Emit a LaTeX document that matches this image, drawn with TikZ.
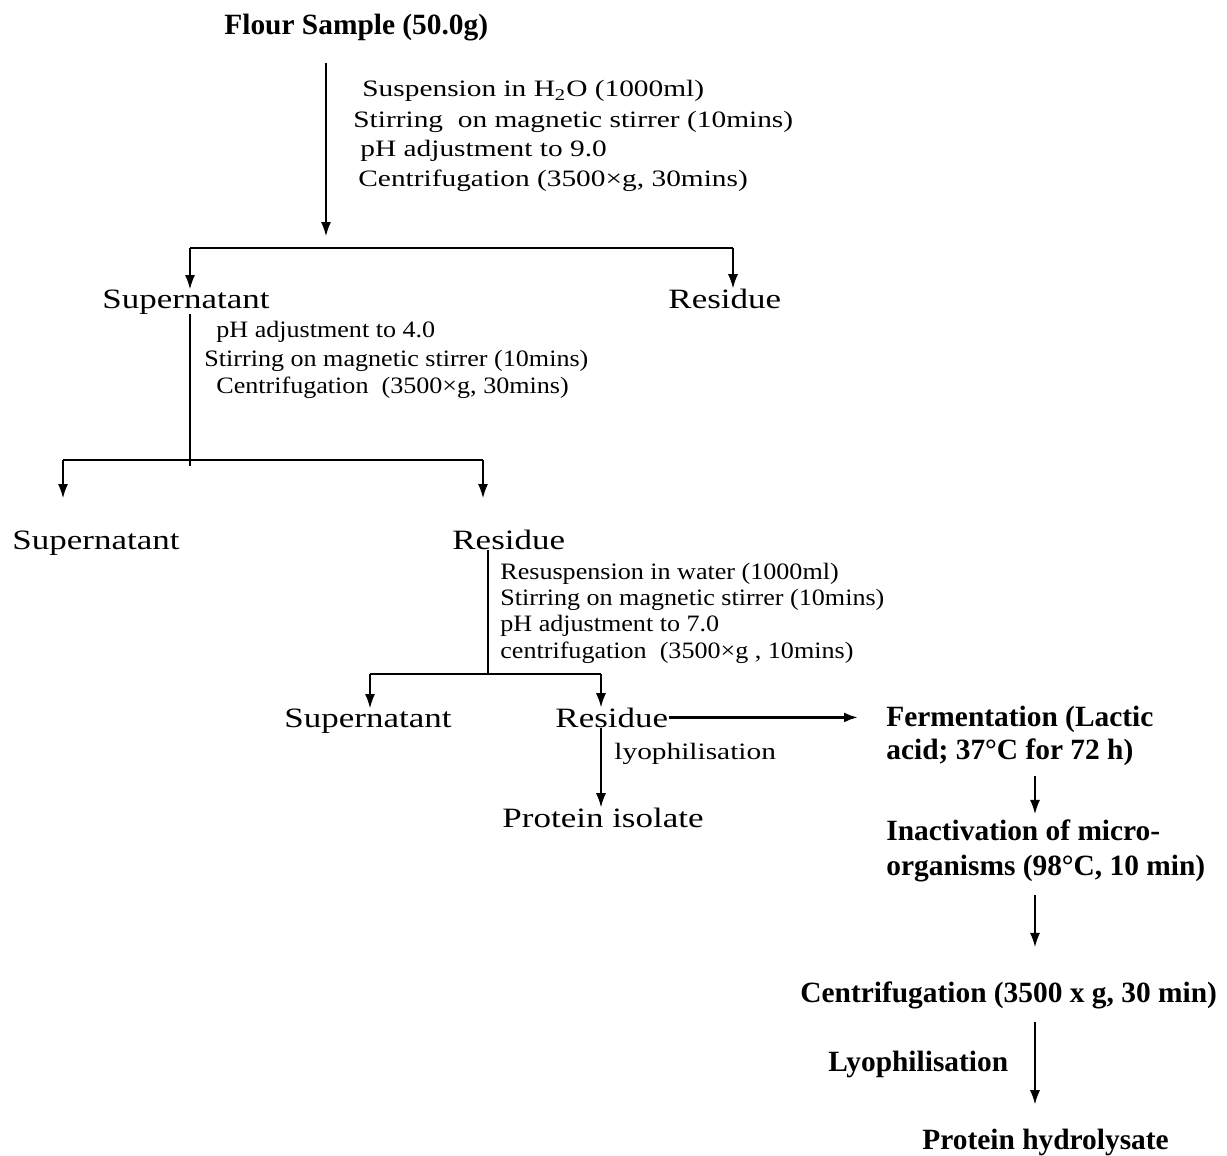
\documentclass[tikz,border=0pt]{standalone}
\usepackage{fontspec}
\setmainfont{Liberation Serif}
\newfontfamily\widefont[FakeStretch=1.25]{Liberation Serif}
\newfontfamily\midfont[FakeStretch=1.11]{Liberation Serif}
\usetikzlibrary{calc}
\usetikzlibrary{arrows.meta}
\tikzset{
 boldlbl/.style={anchor=base west, inner sep=0pt, font=\fontsize{14.7}{17}\selectfont\bfseries},
 phase/.style={anchor=base west, inner sep=0pt, font=\widefont\fontsize{14}{16}\selectfont},
 steptxt/.style={anchor=base west, inner sep=0pt, font=\widefont\fontsize{11.75}{14}\selectfont},
 steptxtb/.style={anchor=base west, inner sep=0pt, font=\midfont\fontsize{11.75}{14}\selectfont},
 flow/.style={-{Latex[length=7pt,width=5pt]}, line width=0.6pt},
 bar/.style={line width=0.6pt}
}
\begin{document}
\begin{tikzpicture}[x=0.5pt, y=-0.5pt]
\useasboundingbox (0,0) rectangle (1227,1156);
\node[boldlbl] (flour) at (224,35) {Flour Sample (50.0g)};
\foreach \x/\y/\t [count=\i] in {362/97/{Suspension in H\textsubscript{2}O (1000ml)}, 353/127/{Stirring~ on magnetic stirrer (10mins)}, 360/156/{pH adjustment to 9.0}, 358/186/{Centrifugation (3500×g, 30mins)}}
 \node[steptxt] (stepa\i) at (\x,\y) {\t};
\node[phase] (sup1) at (102,308) {Supernatant};
\node[phase] (res1) at (668,308) {Residue};
\foreach \x/\y/\t [count=\i] in {216/337/{pH adjustment to 4.0}, 204/366/{Stirring on magnetic stirrer (10mins)}, 216/393/{Centrifugation~ (3500×g, 30mins)}}
 \node[steptxtb] (stepb\i) at (\x,\y) {\t};
\node[phase] (sup2) at (12,549) {Supernatant};
\node[phase] (res2) at (452,549) {Residue};
\foreach \x/\y/\t [count=\i] in {500/579/{Resuspension in water (1000ml)}, 500/605/{Stirring on magnetic stirrer (10mins)}, 500/631/{pH adjustment to 7.0}, 500/658/{centrifugation~ (3500×g , 10mins)}}
 \node[steptxtb] (stepc\i) at (\x,\y) {\t};
\node[phase] (sup3) at (284,727) {Supernatant};
\node[phase] (res3) at (555,727) {Residue};
\node[steptxt] (lyo1) at (614,759) {lyophilisation};
\node[phase] (prot) at (502,827) {Protein isolate};
\node[boldlbl] (ferm1) at (886,726) {Fermentation (Lactic};
\node[boldlbl] (ferm2) at (886,759) {acid; 37°C for 72 h)};
\node[boldlbl] (inact1) at (886,840) {Inactivation of micro-};
\node[boldlbl] (inact2) at (886,875) {organisms (98°C, 10 min)};
\node[boldlbl] (centrif) at (800,1002) {Centrifugation (3500 x g, 30 min)};
\node[boldlbl] (lyo2) at (828,1071) {Lyophilisation};
\node[boldlbl] (hydro) at (922,1149) {Protein hydrolysate};

\coordinate (a1tip) at (326,236);
\coordinate (b1L) at (190,248);
\coordinate (b1R) at (733,248);
\coordinate (b2stem) at (190,466);
\coordinate (b2L) at (63,460);
\coordinate (b2R) at (483,460);
\coordinate (b2Ltip) at (63,498);
\coordinate (b2Rtip) at (483,498);
\coordinate (b3stem) at (488,674);
\coordinate (b3L) at (370,674);
\coordinate (b3R) at (601,674);
\coordinate (rcol) at (1035,0);

\draw[flow, shorten <=10.5pt] (flour.south -| a1tip) -- (a1tip);
\draw[bar] (b1L) -- (b1R);
\draw[flow] (b1L) -- (b1L |- sup1.north);
\draw[flow] (b1R) -- (b1R |- res1.north);
\draw[bar] (sup1.south -| b2stem) -- (b2stem);
\draw[bar] (b2L) -- (b2R);
\draw[flow] (b2L) -- (b2Ltip);
\draw[flow] (b2R) -- (b2Rtip);
\draw[bar] (res2.south -| b3stem) -- (b3stem);
\draw[bar] (b3L) -- (b3R);
\draw[flow] (b3L) -- (b3L |- sup3.north);
\draw[flow] (b3R) -- (b3R |- res3.north);
\draw[flow] (res3.south -| b3R) -- (b3R |- prot.north);
\draw[flow, line width=1.3pt, shorten >=14pt] (res3.east) -- (res3.east -| ferm1.west);
\draw[flow, shorten <=5pt, shorten >=2.5pt] (ferm2.south -| rcol) -- (rcol |- inact1.north);
\draw[flow, shorten <=6.5pt, shorten >=17pt] (inact2.south -| rcol) -- (rcol |- centrif.north);
\draw[flow, shorten <=6.5pt, shorten >=12pt] (centrif.south -| rcol) -- (rcol |- hydro.north);
\end{tikzpicture}
\end{document}
